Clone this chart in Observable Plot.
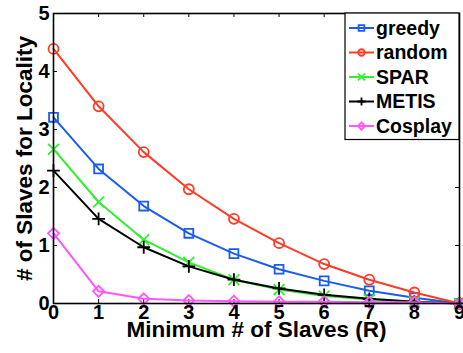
<!DOCTYPE html>
<html>
<head>
<meta charset="utf-8">
<script src="https://cdn.jsdelivr.net/npm/d3@7"></script>
<script src="https://cdn.jsdelivr.net/npm/@observablehq/plot@0.6"></script>
<style>
  html, body { margin: 0; padding: 0; background: #fff; }
  #chart svg { display: block; }
</style>
</head>
<body>
<div id="chart"></div>
<script>
// Minimum number of slaves R on the x axis
const minSlaves = [0, 1, 2, 3, 4, 5, 6, 7, 8, 9];

// Average number of extra slaves needed for locality, per partitioning scheme
const greedy  = [3.21, 2.32, 1.68, 1.21, 0.86, 0.59, 0.39, 0.22, 0.10, 0];
const random  = [4.39, 3.40, 2.61, 1.97, 1.46, 1.04, 0.68, 0.41, 0.19, 0];
const spar    = [2.66, 1.75, 1.10, 0.71, 0.41, 0.24, 0.13, 0.07, 0.03, 0];
const metis   = [2.29, 1.46, 0.97, 0.64, 0.41, 0.26, 0.15, 0.08, 0.03, 0];
const cosplay = [1.21, 0.21, 0.08, 0.05, 0.04, 0.03, 0.03, 0.02, 0.02, 0];

const seriesNames = ["greedy", "random", "SPAR", "METIS", "Cosplay"];
const seriesValues = [greedy, random, spar, metis, cosplay];
const seriesColors = ["#1a5cf2", "#ff3a26", "#33ee33", "#000000", "#ff55ff"];
const seriesSymbols = ["square", "circle", "times", "plus", "diamond2"];
const seriesRadius = [5, 5, 5, 4.2, 5];

const xTicks = [0, 1, 2, 3, 4, 5, 6, 7, 8, 9];
const yTicks = [0, 1, 2, 3, 4, 5];

const xLabel = "Minimum # of Slaves (R)";
const yLabel = "# of Slaves for Locality";

const font = "'Liberation Sans', Arial, Helvetica, sans-serif";

const marks = [];

// inward ticks on all four sides of the box
const xTickLen = 0.069, yTickLen = 0.089;
marks.push(Plot.ruleX(xTicks, {x: d => d, y1: 0, y2: xTickLen, stroke: "#000", strokeWidth: 1}));
marks.push(Plot.ruleX(xTicks, {x: d => d, y1: 5, y2: 5 - xTickLen, stroke: "#000", strokeWidth: 1}));
marks.push(Plot.ruleY(yTicks, {y: d => d, x1: 0, x2: yTickLen, stroke: "#000", strokeWidth: 1}));
marks.push(Plot.ruleY(yTicks, {y: d => d, x1: 9, x2: 9 - yTickLen, stroke: "#000", strokeWidth: 1}));

seriesNames.forEach((name, i) => {
  const rows = minSlaves.map((r, j) => ({r, v: seriesValues[i][j]}));
  marks.push(Plot.line(rows, {x: "r", y: "v", stroke: seriesColors[i], strokeWidth: 2}));
  marks.push(Plot.dot(rows, {
    x: "r", y: "v", symbol: seriesSymbols[i], r: seriesRadius[i],
    stroke: seriesColors[i], fill: "none", strokeWidth: 1.8
  }));
});

marks.push(Plot.frame({stroke: "#000", strokeWidth: 1.6}));

// tick labels
marks.push(Plot.text(xTicks, {
  x: d => d, text: d => String(d), frameAnchor: "bottom", dy: 15,
  textAnchor: "middle", fontSize: 20, fontWeight: "bold", fill: "#000"
}));
marks.push(Plot.text(yTicks, {
  y: d => d, text: d => String(d), frameAnchor: "left", dx: -4, textAnchor: "end",
  fontSize: 20, fontWeight: "bold", fill: "#000"
}));

// axis titles
marks.push(Plot.text([xLabel], {
  text: d => d, frameAnchor: "bottom", dy: 33, textAnchor: "middle",
  fontSize: 22.5, fontWeight: "bold", fill: "#000"
}));
marks.push(Plot.text([yLabel], {
  text: d => d, frameAnchor: "left", dx: -29, rotate: -90, textAnchor: "middle",
  fontSize: 22.5, fontWeight: "bold", fill: "#000"
}));

const chart = Plot.plot({
  width: 463,
  height: 353,
  marginLeft: 53,
  marginRight: 4,
  marginTop: 13,
  marginBottom: 50,
  style: {fontFamily: font, background: "#fff"},
  x: {domain: [0, 9], axis: null},
  y: {domain: [0, 5], axis: null},
  marks
});

document.getElementById("chart").append(chart);

// legend box in the top-right corner of the plot
const svg = d3.select(chart);
const legendX = 345, legendY = 13, legendW = 114, rowH = 24.5;
const legend = svg.append("g").attr("font-family", font).attr("text-anchor", "start");
legend.append("rect")
  .attr("x", legendX).attr("y", legendY)
  .attr("width", legendW).attr("height", rowH * seriesNames.length + 4)
  .attr("fill", "#fff").attr("stroke", "#000").attr("stroke-width", 1.2);

const symbolTypes = {
  square: d3.symbolSquare, circle: d3.symbolCircle, times: d3.symbolTimes,
  plus: d3.symbolPlus, diamond2: d3.symbolDiamond2
};

seriesNames.forEach((name, i) => {
  const cy = legendY + 15 + i * rowH;
  const row = legend.append("g");
  row.append("line")
    .attr("x1", legendX + 4).attr("x2", legendX + 29)
    .attr("y1", cy).attr("y2", cy)
    .attr("stroke", seriesColors[i]).attr("stroke-width", 2);
  const r = seriesRadius[i] * 0.65;
  row.append("path")
    .attr("transform", `translate(${legendX + 16.5},${cy})`)
    .attr("d", d3.symbol(symbolTypes[seriesSymbols[i]], Math.PI * r * r)())
    .attr("fill", "none").attr("stroke", seriesColors[i]).attr("stroke-width", 1.8);
  row.append("text")
    .attr("x", legendX + 31).attr("y", cy)
    .attr("dy", "0.35em")
    .attr("font-size", 19.5).attr("font-weight", "bold").attr("fill", "#000")
    .text(name);
});
</script>
</body>
</html>
